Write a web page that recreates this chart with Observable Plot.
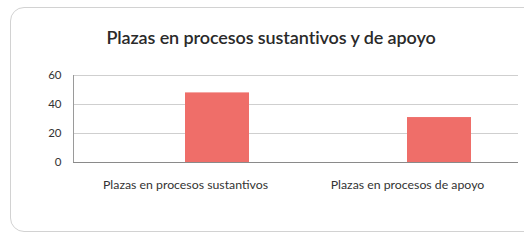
<!DOCTYPE html>
<html>
<head>
<meta charset="utf-8">
<script src="https://cdn.jsdelivr.net/npm/d3@7"></script>
<script src="https://cdn.jsdelivr.net/npm/@observablehq/plot@0.6"></script>
<style>
  html, body { margin: 0; padding: 0; background: #fff; }
  #wrap { position: relative; width: 524px; height: 240px; overflow: hidden; font-family: Lato, "Open Sans", sans-serif; }
  #border { position: absolute; left: 10px; top: 7px; width: 560px; height: 225px; border: 1.5px solid #d2d2d2; border-radius: 14px; box-sizing: border-box; }
  #title { position: absolute; left: 0; top: 26px; width: 542px; text-align: center; font-size: 18px; color: #2a2a2a; font-weight: 600; letter-spacing: -0.1px; }
  #chart { position: absolute; left: 0; top: 0; }
</style>
</head>
<body>
<div id="wrap">
  <div id="border"></div>
  <div id="title">Plazas en procesos sustantivos y de apoyo</div>
  <div id="chart"></div>
</div>
<script>
const categories = ["Plazas en procesos sustantivos", "Plazas en procesos de apoyo"];
const values = [48, 31];
const yTicks = [0, 20, 40, 60];

const data = categories.map((c, i) => ({category: c, value: values[i]}));

const plot = Plot.plot({
  width: 524,
  height: 240,
  marginLeft: 73,
  marginRight: 6,
  marginTop: 75,
  marginBottom: 78,
  style: {fontFamily: "Lato, 'Open Sans', sans-serif", background: "transparent", color: "#333"},
  x: {domain: categories, range: [74, 582], paddingInner: 0.712, paddingOuter: 0.5, label: null},
  y: {domain: [0, 60], label: null},
  marks: [
    Plot.ruleY(yTicks.filter(d => d > 0), {stroke: "#cfcfcf", strokeWidth: 1}),
    Plot.frame({anchor: "left", stroke: "#9a9a9a"}),
    Plot.barY(data, {x: "category", y: "value", fill: "#ef6e69"}),
    Plot.ruleY([0], {stroke: "#8a8a8a", strokeWidth: 1.2}),
    Plot.axisY({ticks: yTicks, tickSize: 0, tickPadding: 12, fontSize: 11.5, label: null}),
    Plot.axisX({tickSize: 0, tickPadding: 18, fontSize: 12.3, dx: -32, label: null})
  ]
});
document.getElementById("chart").appendChild(plot);
</script>
</body>
</html>
